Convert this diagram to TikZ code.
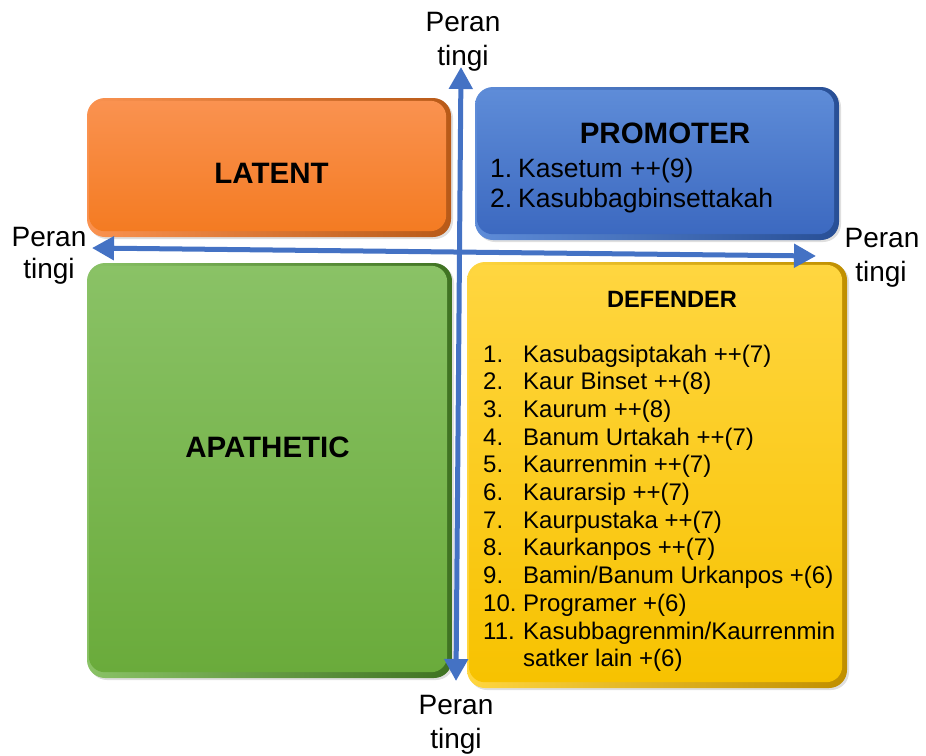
\documentclass[tikz,border=0pt]{standalone}
\usepackage{fontspec}
\setmainfont{Liberation Sans}
\usetikzlibrary{arrows.meta,shadows}

\definecolor{axisblue}{HTML}{4472C4}
\definecolor{orgEdge}{HTML}{B85A18}
\definecolor{orgTop}{HTML}{FA9250}
\definecolor{orgBot}{HTML}{F47B22}
\definecolor{bluEdge}{HTML}{284F96}
\definecolor{bluTop}{HTML}{5E8CD8}
\definecolor{bluBot}{HTML}{3C69C0}
\definecolor{grnEdge}{HTML}{3F7222}
\definecolor{grnTop}{HTML}{8AC266}
\definecolor{grnBot}{HTML}{6AAB3B}
\definecolor{ylwEdge}{HTML}{C08F00}
\definecolor{ylwTop}{HTML}{FFD640}
\definecolor{ylwBot}{HTML}{F7C200}

\begin{document}
\begin{tikzpicture}[x=1pt,y=-1pt,
  quad/.style={rounded corners=18pt, inner sep=0pt,
    drop shadow={opacity=0.25,shadow xshift=2pt,shadow yshift=-2pt}},
  face/.style={rounded corners=16pt},
  axisline/.style={draw=axisblue, line width=5pt,
    {Triangle[width=23pt,length=22pt]}-{Triangle[width=23pt,length=22pt]}},
  lbl/.style={font=\fontsize{28}{34}\selectfont, inner sep=0pt, anchor=base},
  heading/.style={font=\fontsize{29.5}{34}\selectfont\bfseries, inner sep=0pt, anchor=base},
]
\useasboundingbox (0,0) rectangle (926,755);

% quadrant boxes: a rim that darkens toward the lower right, then a lighter inset face
\node[quad, minimum width=364pt, minimum height=139pt,
  shading=axis, shading angle=135, left color=orgTop, right color=orgEdge] (lat) at (269,167.5) {};
\shade[face, top color=orgTop, bottom color=orgBot]
  ([shift={(2pt,-3pt)}]lat.north west) rectangle ([shift={(-5pt,6pt)}]lat.south east);

\node[quad, minimum width=364pt, minimum height=153pt,
  shading=axis, shading angle=135, left color=bluTop, right color=bluEdge] (pro) at (657,163.5) {};
\shade[face, top color=bluTop, bottom color=bluBot]
  ([shift={(2pt,-3pt)}]pro.north west) rectangle ([shift={(-5pt,6pt)}]pro.south east);

\node[quad, minimum width=365pt, minimum height=415pt,
  shading=axis, shading angle=135, left color=grnTop, right color=grnEdge] (apa) at (269.5,470.5) {};
\shade[face, top color=grnTop, bottom color=grnBot]
  ([shift={(2pt,-3pt)}]apa.north west) rectangle ([shift={(-5pt,6pt)}]apa.south east);

\node[quad, minimum width=380pt, minimum height=426pt,
  shading=axis, shading angle=135, left color=ylwTop, right color=ylwEdge] (def) at (657,475) {};
\shade[face, top color=ylwTop, bottom color=ylwBot]
  ([shift={(2pt,-3pt)}]def.north west) rectangle ([shift={(-5pt,6pt)}]def.south east);

% box titles
\node[heading] (latT) at (271.5,183) {LATENT};
\node[heading] (proT) at (665,143) {PROMOTER};
\node[heading] (apaT) at (267.5,457) {APATHETIC};
\node[heading, font=\fontsize{23.6}{28}\selectfont\bfseries] (defT) at (672,307) {DEFENDER};

% promoter list
\node[anchor=base west, inner sep=0pt, font=\fontsize{26.5}{30}\selectfont] (proL) at (490,177)
  {\begin{tabular}[t]{@{}l@{}}
   \makebox[28pt][l]{1.}Kasetum ++(9)\\
   \makebox[28pt][l]{2.}Kasubbagbinsettakah
   \end{tabular}};

% defender list
\node[anchor=base west, inner sep=0pt, font=\fontsize{24}{27.7}\selectfont] (defL) at (483,362)
  {\begin{tabular}[t]{@{}l@{}}
   \makebox[40pt][l]{1.}Kasubagsiptakah ++(7)\\
   \makebox[40pt][l]{2.}Kaur Binset ++(8)\\
   \makebox[40pt][l]{3.}Kaurum ++(8)\\
   \makebox[40pt][l]{4.}Banum Urtakah ++(7)\\
   \makebox[40pt][l]{5.}Kaurrenmin ++(7)\\
   \makebox[40pt][l]{6.}Kaurarsip ++(7)\\
   \makebox[40pt][l]{7.}Kaurpustaka ++(7)\\
   \makebox[40pt][l]{8.}Kaurkanpos ++(7)\\
   \makebox[40pt][l]{9.}Bamin/Banum Urkanpos +(6)\\
   \makebox[40pt][l]{10.}Programer +(6)\\
   \makebox[40pt][l]{11.}Kasubbagrenmin/Kaurrenmin\\
   \hspace*{40pt}satker lain +(6)
   \end{tabular}};

% axes
\coordinate (axL) at (92,248);
\coordinate (axR) at (816,256);
\coordinate (axT) at (461,67);
\coordinate (axB) at (456,681);
\draw[axisline] (axL) -- (axR);
\draw[axisline] (axB) -- (axT);

% axis end labels
\node[lbl] (tP) at (463,31) {Peran};
\node[lbl] (tT) at (463,65) {tingi};
\node[lbl] (lP) at (49,246) {Peran};
\node[lbl] (lT) at (49,278) {tingi};
\node[lbl] (rP) at (882,247) {Peran};
\node[lbl] (rT) at (881,281) {tingi};
\node[lbl] (bP) at (456,714) {Peran};
\node[lbl] (bT) at (456,748) {tingi};
\end{tikzpicture}
\end{document}
